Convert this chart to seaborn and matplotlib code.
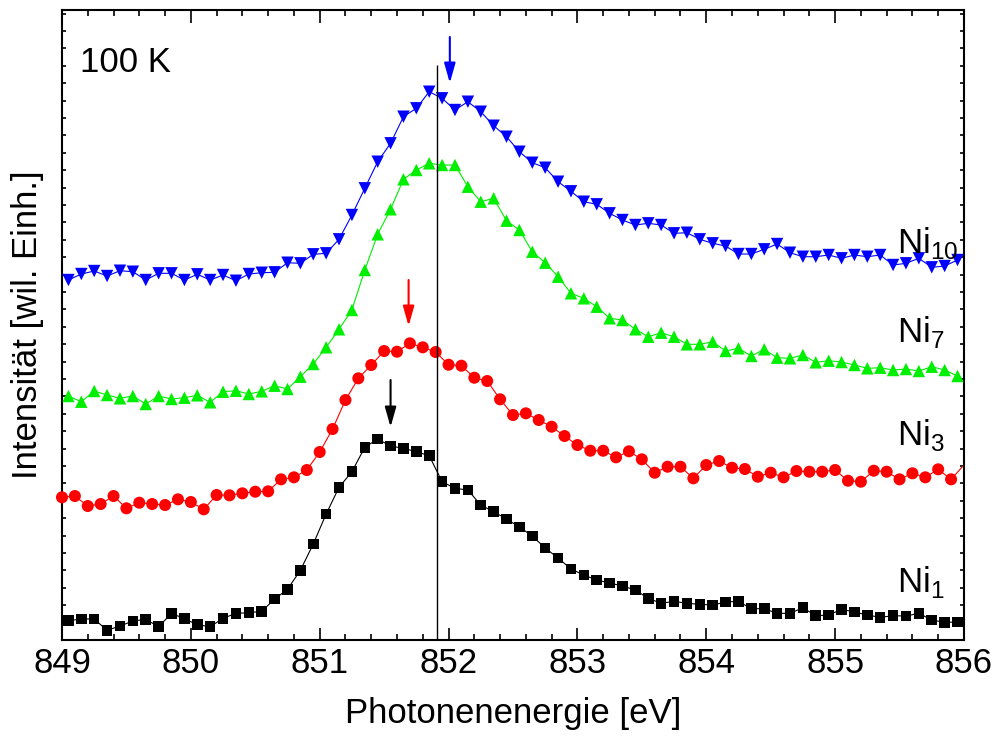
"""XAS Ni L3 edge of Ni clusters at 100 K, redrawn with seaborn."""
import matplotlib.pyplot as plt
import numpy as np
import seaborn as sns
from matplotlib.ticker import MultipleLocator

# photon energies (eV): 0.1 eV steps
energy = np.round(849.05 + 0.1 * np.arange(70), 2)
energy_ni3 = np.append(np.round(849.0 + 0.1 * np.arange(70), 2), 856.1)

# intensities in arbitrary units (already offset like in the original)
ni1 = [19.3, 21, 21, 9.7, 14, 19, 20.7, 13.3, 26.7, 21.3, 15.3, 13.3, 21.7, 26.7,
       27.3, 28.7, 41, 50.7, 69.7, 96, 126, 152.7, 168.3, 192.7, 201, 194, 191.7,
       188.3, 184.3, 158.3, 151.7, 150, 135, 128.3, 121, 113, 104, 92, 82, 71, 65,
       60, 57, 54, 50, 41.7, 36.7, 38.7, 36.7, 35.7, 35, 38, 38.7, 31.3, 31.3, 26.7,
       26.7, 32.3, 24.3, 25, 30.7, 28, 25, 22.7, 24.3, 24, 26.7, 20, 17.7, 18]
ni3 = [142.7, 144, 134, 136, 144, 131.7, 137.3, 136, 135, 140.7, 138, 130.7, 145,
       144.7, 146.7, 148.3, 148.7, 160.7, 162.7, 170, 188, 211, 240, 261.7, 275,
       289, 288.3, 296.7, 292.7, 288, 275.3, 274.3, 262.3, 259, 240.7, 225, 226.7,
       220, 213.3, 204, 195, 189.3, 189.3, 182.7, 188.7, 180.7, 167.3, 173.3, 173.3,
       161.7, 175, 179, 172.3, 171, 163.3, 167.3, 162.7, 169, 168.3, 168.3, 170,
       159.3, 158.3, 169.3, 168.3, 160.7, 166.7, 162.7, 170.7, 160.7, 189.3]
ni7 = [244, 238.3, 249, 245, 241.7, 244, 236, 244, 241, 242.3, 244.7, 237.7, 248.3,
       249.3, 246, 248.7, 254.3, 251, 263.3, 276, 292.7, 310.7, 330, 370, 405.7,
       430.7, 460.7, 470, 476.7, 475, 475, 453.3, 438.3, 441.7, 419.3, 410, 388.3,
       377.3, 363.3, 346.7, 341.7, 333.3, 321.7, 320, 310.7, 303.3, 307.3, 303.3,
       295.7, 295.7, 298.3, 289, 291.7, 284, 290.7, 282.3, 281.7, 285, 277.7, 279.3,
       278, 275, 271.7, 272.3, 270, 271, 269, 273.3, 270, 264]
ni10 = [360, 366, 369, 364, 369.3, 368.3, 360, 366.7, 366.7, 360, 365.7, 360, 365,
        359.3, 366, 367.3, 367.7, 377.3, 376.7, 385.7, 386.7, 400.7, 425, 451.7,
        478.3, 496.7, 523.3, 531.7, 548.3, 541.7, 530, 538.3, 528.3, 514.3, 503.3,
        488.3, 477.3, 472.3, 458.3, 448.7, 438.3, 435.7, 426.7, 420, 415, 416.7, 415,
        406.7, 407.3, 400.7, 396.7, 394, 386, 386, 390.7, 396, 387.3, 383.3, 383.3,
        385, 381.7, 385, 383.3, 385, 375, 376.7, 381.7, 372.7, 374, 380]

labels = [r'Ni$_\mathregular{1}$', r'Ni$_\mathregular{3}$',
          r'Ni$_\mathregular{7}$', r'Ni$_\mathregular{10}$']
label_y = [48, 195, 298, 387]
colors = ['black', '#ff0000', '#00ee00', '#0000ff']
markers = ['s', 'o', '^', 'v']
sizes = [58, 75, 80, 80]

# peak marks: arrows (energy, tail, head) and the reference line
peak_e = [851.55, 851.69, 852.01]
peak_tail = [260, 360, 603]
peak_head = [213, 314, 557]
peak_colors = ['black', '#ff0000', '#0000ff']
ref_line_e = 851.91

sns.set_style('ticks')
plt.rcParams['font.family'] = ['Liberation Sans', 'DejaVu Sans']
plt.rcParams['mathtext.fontset'] = 'custom'
plt.rcParams['mathtext.rm'] = 'Liberation Sans'
plt.rcParams['text.color'] = 'black'
plt.rcParams['axes.labelcolor'] = 'black'
plt.rcParams['xtick.color'] = 'black'
plt.rcParams['ytick.color'] = 'black'
plt.rcParams['axes.edgecolor'] = 'black'

fig = plt.figure(figsize=(9.95, 7.36), dpi=100)
ax = fig.add_axes([0.0623, 0.1304, 0.9065, 0.856])

curves = [(energy, ni1), (energy_ni3, ni3), (energy, ni7), (energy, ni10)]
for (e, v), c, m, s in zip(curves, colors, markers, sizes):
    e = np.asarray(e)
    v = np.asarray(v)
    sns.lineplot(x=e, y=v, color=c, lw=0.8, ax=ax)
    inside = e <= 856
    sns.scatterplot(x=e[inside], y=v[inside], marker=m, s=s, color=c,
                    edgecolor='none', linewidth=0, clip_on=False, zorder=3, ax=ax)

ax.vlines(ref_line_e, 0, 575, color='black', lw=1, zorder=4)
for x, y0, y1, c in zip(peak_e, peak_tail, peak_head, peak_colors):
    ax.annotate('', xy=(x, y1), xytext=(x, y0),
                arrowprops=dict(arrowstyle='-|>,head_length=0.6,head_width=0.17',
                                color=c, lw=1.5, mutation_scale=20,
                                shrinkA=0, shrinkB=0))

for text, y in zip(labels, label_y):
    ax.text(855.48, y, text, fontsize=25, ha='left', va='baseline')
ax.text(0.02, 0.9016, '100 K', transform=ax.transAxes, fontsize=25,
        ha='left', va='baseline')

ax.set_xlim(849, 856)
ax.set_ylim(0, 630)
ax.xaxis.set_major_locator(MultipleLocator(1))
ax.xaxis.set_minor_locator(MultipleLocator(0.2))
ax.yaxis.set_major_locator(MultipleLocator(17.4))
ax.tick_params(which='both', direction='in', top=True, right=True, width=1.2)
ax.tick_params(axis='x', which='major', length=9, labelsize=25, pad=5)
ax.tick_params(axis='x', which='minor', length=4.5)
ax.tick_params(axis='y', length=3, labelleft=False)
for spine in ax.spines.values():
    spine.set_linewidth(1.5)

ax.set_xlabel('Photonenenergie [eV]', fontsize=25, labelpad=12)
ax.set_ylabel('Intensität [wil. Einh.]', fontsize=25, labelpad=13)

fig.savefig('out.png', dpi=100)
